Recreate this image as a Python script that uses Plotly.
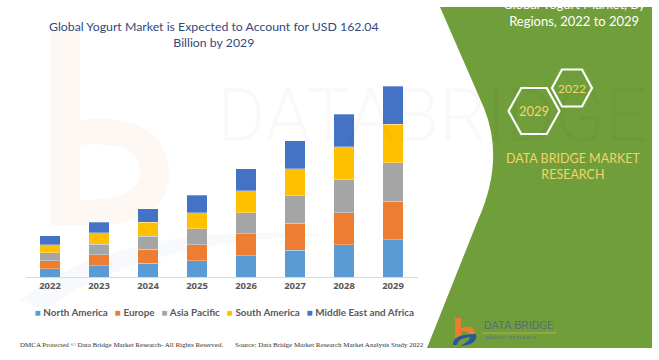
import plotly.graph_objects as go

W, H = 659, 360

years = ["2022", "2023", "2024", "2025", "2026", "2027", "2028", "2029"]
series_names = ["North America", "Europe", "Asia Pacific", "South America", "Middle East and Africa"]
north_america = [7.0, 9.4, 11.9, 13.6, 18.2, 22.7, 27.2, 31.8]
europe = [6.8, 9.4, 11.6, 13.9, 18.7, 23.0, 27.5, 32.6]
asia_pacific = [7.0, 9.0, 11.0, 13.6, 17.9, 23.5, 28.3, 32.6]
south_america = [6.8, 9.7, 11.9, 13.6, 18.7, 22.6, 27.5, 32.6]
middle_east_africa = [7.4, 9.0, 11.6, 14.7, 18.4, 23.8, 27.8, 32.4]
colors = ["#5B9BD5", "#ED7D31", "#A5A5A5", "#FFC000", "#4472C4"]

title_lines = ["Global Yogurt Market is Expected to Account for USD 162.04", "Billion by 2029"]
panel_lines = ["Global Yogurt Market, By", "Regions, 2022 to 2029"]


def px(x):
    return x / W


def py(y):
    return 1 - y / H


fig = go.Figure()
for name, vals, c in zip(series_names,
                         [north_america, europe, asia_pacific, south_america, middle_east_africa],
                         colors):
    fig.add_trace(go.Bar(x=years, y=vals, name=name,
                         marker=dict(color=c, line=dict(width=0.5, color="rgba(255,255,255,0.6)"))))

shapes = []
annotations = []


def ann(text, x, y, size, color, family="Lato", xanchor="center", yanchor="middle", weight="normal", align="center"):
    annotations.append(dict(text=text, x=px(x), y=py(y), xref="paper", yref="paper", showarrow=False,
                            xanchor=xanchor, yanchor=yanchor, align=align,
                            font=dict(family=family, size=size, color=color, weight=weight)))


# faint watermark "b" (behind bars)
wm_orange = "rgba(237,125,49,0.05)"
shapes.append(dict(type="path", xref="paper", yref="paper", layer="below",
                   path=f"M {px(50)},{py(30)} L {px(80)},{py(30)} L {px(80)},{py(225)} L {px(50)},{py(225)} Z",
                   fillcolor=wm_orange, line=dict(width=0)))
shapes.append(dict(type="path", xref="paper", yref="paper", layer="below",
                   path=(f"M {px(80)},{py(120)} Q {px(165)},{py(110)} {px(170)},{py(175)} "
                         f"Q {px(165)},{py(230)} {px(80)},{py(225)} L {px(80)},{py(200)} "
                         f"Q {px(140)},{py(200)} {px(140)},{py(172)} Q {px(140)},{py(140)} {px(80)},{py(145)} Z"),
                   fillcolor=wm_orange, line=dict(width=0)))
shapes.append(dict(type="path", xref="paper", yref="paper", layer="below",
                   path=(f"M {px(20)},{py(300)} Q {px(120)},{py(220)} {px(330)},{py(235)} "
                         f"Q {px(140)},{py(240)} {px(45)},{py(310)} Z"),
                   fillcolor="rgba(68,114,196,0.04)", line=dict(width=0)))

# green panel
shapes.append(dict(type="path", xref="paper", yref="paper", layer="above",
                   path=(f"M {px(440)},{py(7)} L {px(652)},{py(7)} L {px(652)},{py(348)} L {px(427)},{py(348)} "
                         f"L {px(478)},{py(220)} Q {px(505)},{py(160)} {px(484)},{py(108)} Z"),
                   fillcolor="#709E3A", line=dict(width=0)))


def hexagon(cx, cy, w, h):
    pts = [(cx - w / 2, cy), (cx - w / 4, cy - h / 2), (cx + w / 4, cy - h / 2),
           (cx + w / 2, cy), (cx + w / 4, cy + h / 2), (cx - w / 4, cy + h / 2)]
    d = "M " + " L ".join(f"{px(x)},{py(y)}" for x, y in pts) + " Z"
    return dict(type="path", xref="paper", yref="paper", layer="above", path=d,
                line=dict(color="white", width=2.2), fillcolor="rgba(0,0,0,0)")


shapes.append(hexagon(572, 88, 40, 37))
shapes.append(hexagon(534, 111, 51, 46))

# bottom logo
shapes.append(dict(type="path", xref="paper", yref="paper", layer="above",
                   path=(f"M {px(455)},{py(318)} L {px(461)},{py(318)} L {px(461)},{py(328)} "
                         f"Q {px(474)},{py(324)} {px(475)},{py(334)} L {px(469)},{py(334)} "
                         f"Q {px(466)},{py(329)} {px(461)},{py(332)} L {px(461)},{py(338)} L {px(455)},{py(338)} Z"),
                   fillcolor="#ED7D31", line=dict(width=0)))
shapes.append(dict(type="path", xref="paper", yref="paper", layer="above",
                   path=(f"M {px(453)},{py(345)} Q {px(452)},{py(334)} {px(476)},{py(334)} "
                         f"Q {px(478)},{py(345)} {px(460)},{py(346)} Q {px(470)},{py(341)} {px(470)},{py(337)} "
                         f"Q {px(458)},{py(338)} {px(457)},{py(345)} Z"),
                   fillcolor="#2E5597", line=dict(width=0)))
shapes.append(dict(type="line", xref="paper", yref="paper", layer="above",
                   x0=px(482), x1=px(556), y0=py(333), y1=py(333), line=dict(color="#C9A640", width=1)))

# watermark text
ann("DATABRIDGE", 432, 116, 74, "rgba(0,0,0,0.022)", family="Roboto", weight=300)
ann("M   A   R   K   E   T      R   E   S   E   A   R   C   H", 425, 243, 26, "rgba(0,0,0,0.018)",
    family="Roboto", weight=300)

# title
ann("<br>".join(title_lines), 214, 35, 12.3, "#33497A")

# panel texts
ann("<br>".join(panel_lines), 574, 13, 13, "white")
ann("2022", 572, 88, 12, "#F2D56B")
ann("2029", 534, 111, 13, "#F2D56B")
ann("DATA BRIDGE MARKET<br>RESEARCH", 573, 166, 12.5, "#F2D56B")
ann("DATA BRIDGE", 482, 325, 11.5, "#4A5A8C", family="Roboto", xanchor="left", weight=300)
ann("M A R K E T   R E S E A R C H", 484, 337, 4, "#5A6A90", family="Roboto", xanchor="left")

# legend (single line annotation built from series names and colours)
legend_text = "   ".join(f"<span style='color:{c}'>■</span> {n}" for n, c in zip(series_names, colors))
ann(legend_text, 224, 312, 9.9, "#595959", family="Lato", weight="bold")

# footers
ann("DMCA Protected © Data Bridge Market Research- All Rights Reserved.", 18, 345, 7, "#333333",
    family="Liberation Serif", xanchor="left")
ann("Source: Data Bridge Market Research Market Analysis Study 2022", 233, 345, 7, "#333333",
    family="Liberation Serif", xanchor="left")

ppu = 190.7 / 162.04
fig.update_layout(
    width=W, height=H, autosize=False,
    margin=dict(l=0, r=0, t=0, b=0, autoexpand=False),
    paper_bgcolor="white", plot_bgcolor="rgba(0,0,0,0)",
    barmode="stack", bargap=0.59,
    showlegend=False,
    xaxis=dict(domain=[px(25.5), px(417.5)], showline=True, linecolor="#D9D9D9", linewidth=1,
               ticks="", showgrid=False, automargin=False,
               tickfont=dict(family="Open Sans", size=9.5, color="#595959", weight="bold")),
    yaxis=dict(domain=[py(277), py(60)], range=[0, (277 - 60) / ppu], visible=False, showgrid=False,
               automargin=False),
    shapes=shapes, annotations=annotations,
)

fig.write_html("out.html", config={"displayModeBar": False},
               post_script="document.body.style.margin='0';document.body.style.overflow='hidden';")
